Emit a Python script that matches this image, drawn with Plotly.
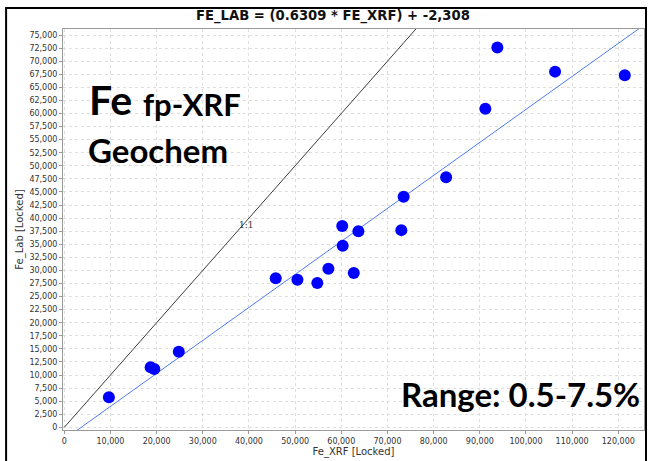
import plotly.graph_objects as go

# Fe by portable XRF vs. lab geochemistry (ppm)
fe_xrf = [9660, 18700, 19500, 24800, 45800, 50500, 54800, 57200, 62700, 60200,
          60300, 63700, 73000, 73500, 82700, 91200, 93800, 106300, 121400]
fe_lab = [5760, 11470, 11150, 14460, 28500, 28200, 27600, 30300, 29500, 38500,
          34700, 37500, 37700, 44100, 47800, 60900, 72600, 68000, 67300]

# regression reported in the title
slope = 0.6309
intercept = -2308
line_x = [0, 130000]
fit_y = [slope * v + intercept for v in line_x]
one_to_one = [0, 130000]

W, H = 650, 461
L, R, T, B = 63, 5, 29, 29
PW, PH = W - L - R, H - T - B


def px(x):
    return (x - L) / PW


def py(y):
    return (H - B - y) / PH


fig = go.Figure()
fig.add_trace(go.Scatter(x=one_to_one, y=one_to_one, mode="lines",
                         line=dict(color="#3c3c3c", width=1), hoverinfo="skip"))
fig.add_trace(go.Scatter(x=line_x, y=fit_y, mode="lines",
                         line=dict(color="#4f7cf5", width=1), hoverinfo="skip"))
fig.add_trace(go.Scatter(x=fe_xrf, y=fe_lab, mode="markers",
                         marker=dict(color="#0000ff", size=12, line=dict(width=0))))

grid = dict(showgrid=True, gridcolor="#dedede", griddash="dot", gridwidth=1,
            showline=True, linecolor="#9a9a9a", linewidth=1, mirror=True,
            ticks="outside", ticklen=3, tickcolor="#9a9a9a", zeroline=False,
            tickformat=",d", tickfont=dict(family="DejaVu Sans", size=8, color="#333"))

fig.update_xaxes(range=[-280, 125560], dtick=10000, tick0=0,
                 title=dict(text="Fe_XRF [Locked]", standoff=3,
                            font=dict(family="DejaVu Sans", size=10, color="#333")),
                 **grid)
fig.update_yaxes(range=[-510, 76150], dtick=2500, tick0=0,
                 title=dict(text="Fe_Lab [Locked]", standoff=3,
                            font=dict(family="DejaVu Sans", size=10, color="#333")),
                 **grid)

ann = [
    dict(text="<b>FE_LAB = (0.6309 * FE_XRF) + -2,308</b>", x=px(333), y=py(16),
         xanchor="center", yanchor="middle",
         font=dict(family="DejaVu Sans", size=13.2, color="#111")),
    dict(text="1:1", x=39400, y=38700, xref="x", yref="y", xanchor="center",
         yanchor="middle", font=dict(family="DejaVu Serif", size=9, color="#333")),
    dict(text="<b>Fe</b>", x=px(87), y=py(100), xanchor="left", yanchor="middle",
         font=dict(family="Lato", size=41, color="black")),
    dict(text="<b>fp-XRF</b>", x=px(141), y=py(104), xanchor="left", yanchor="middle",
         font=dict(family="Lato", size=31, color="black")),
    dict(text="<b>Geochem</b>", x=px(86), y=py(151), xanchor="left", yanchor="middle",
         font=dict(family="Lato", size=33, color="black")),
    dict(text="<b>Range: 0.5-7.5%</b>", x=px(400), y=py(396), xanchor="left",
         yanchor="middle", font=dict(family="Lato", size=33, color="black")),
]
for a in ann:
    a.setdefault("xref", "paper")
    a.setdefault("yref", "paper")
    a["showarrow"] = False

fig.update_layout(
    width=W, height=H, margin=dict(l=L, r=R, t=T, b=B),
    paper_bgcolor="white", plot_bgcolor="white", showlegend=False,
    annotations=ann,
    shapes=[dict(type="rect", xref="paper", yref="paper",
                 x0=px(6), x1=px(647), y0=py(470), y1=py(8),
                 line=dict(color="black", width=2), layer="above")],
)

fig.write_html("out.html")
